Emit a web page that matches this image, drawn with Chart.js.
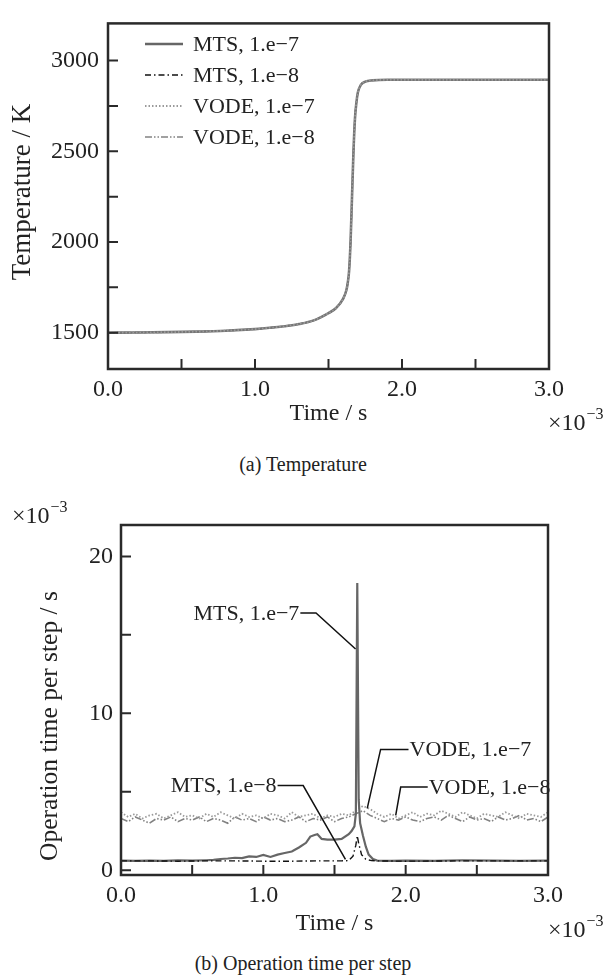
<!DOCTYPE html>
<html>
<head>
<meta charset="utf-8">
<script src="https://cdn.jsdelivr.net/npm/chart.js@4.4.1/dist/chart.umd.min.js"></script>
<style>
  html, body { margin: 0; padding: 0; background: #fff; }
  body { width: 606px; height: 976px; position: relative; overflow: hidden;
         font-family: "Liberation Serif", "Times New Roman", serif; color: #222; }
  .wrap { position: absolute; left: 0; width: 606px; }
  #topWrap { top: 0; height: 440px; }
  #botWrap { top: 490px; height: 460px; }
  .caption { position: absolute; left: 0; width: 606px; text-align: center; font-size: 20px; }
</style>
</head>
<body>
<div class="wrap" id="topWrap"><canvas id="tempChart" width="606" height="440"></canvas></div>
<div class="wrap" id="botWrap"><canvas id="opChart" width="606" height="460"></canvas></div>
<div class="caption" style="top:453px">(a) Temperature</div>
<div class="caption" style="top:952px">(b) Operation time per step</div>

<script>
const SERIF = '"Liberation Serif", "Times New Roman", serif';

// series names
const seriesNames = ['MTS, 1.e\u22127', 'MTS, 1.e\u22128', 'VODE, 1.e\u22127', 'VODE, 1.e\u22128'];

// (a) temperature, time in 1e-3 s
const tempTime = [0, 0.2, 0.4, 0.6, 0.8, 1.0, 1.1, 1.2, 1.3, 1.4, 1.5, 1.55, 1.6, 1.62, 1.63, 1.64,
                  1.65, 1.66, 1.67, 1.68, 1.69, 1.70, 1.72, 1.75, 1.8, 1.9, 2.0, 2.5, 3.0];
const tempK = [1500, 1501, 1503, 1506, 1511, 1520, 1527, 1536, 1548, 1568, 1608, 1635, 1688, 1730, 1770, 1840,
               2000, 2250, 2500, 2680, 2770, 2825, 2866, 2884, 2891, 2894, 2894, 2894, 2894];

// (b) operation time per step, 1e-3 s
const mts7Time = [0, 0.1, 0.2, 0.3, 0.4, 0.5, 0.6, 0.65, 0.7, 0.75, 0.8, 0.85, 0.9, 0.95, 1.0, 1.05,
                  1.1, 1.15, 1.2, 1.25, 1.3, 1.33, 1.36, 1.38, 1.41, 1.45, 1.5, 1.55, 1.6, 1.62, 1.64,
                  1.65, 1.66, 1.67, 1.68, 1.70, 1.72, 1.74, 1.77, 1.8, 1.9, 2.0, 2.2, 2.4, 2.6, 2.8, 3.0];
const mts7Op = [0.62, 0.6, 0.62, 0.6, 0.63, 0.62, 0.64, 0.66, 0.72, 0.75, 0.8, 0.78, 0.88, 0.85, 0.98, 0.85,
                1.0, 1.1, 1.2, 1.45, 1.75, 2.15, 2.25, 2.3, 2.0, 1.95, 1.95, 2.0, 2.3, 2.5, 2.8,
                3.6, 18.3, 4.5, 3.0, 2.2, 1.5, 1.0, 0.72, 0.62, 0.6, 0.62, 0.6, 0.64, 0.62, 0.6, 0.62];

const mts8Time = [0, 0.2, 0.4, 0.6, 0.8, 1.0, 1.2, 1.4, 1.55, 1.6, 1.63, 1.65, 1.66, 1.67, 1.69, 1.72,
                  1.76, 1.8, 2.0, 2.4, 2.8, 3.0];
const mts8Op = [0.6, 0.6, 0.58, 0.6, 0.6, 0.58, 0.58, 0.6, 0.6, 0.62, 0.9, 1.6, 2.2, 1.7, 1.0, 0.7,
                0.62, 0.6, 0.58, 0.6, 0.6, 0.6];

const vodeTime = [0.00, 0.05, 0.10, 0.15, 0.20, 0.25, 0.30, 0.35, 0.40, 0.45,
                  0.50, 0.55, 0.60, 0.65, 0.70, 0.75, 0.80, 0.85, 0.90, 0.95,
                  1.00, 1.05, 1.10, 1.15, 1.20, 1.25, 1.30, 1.35, 1.40, 1.45,
                  1.50, 1.55, 1.60, 1.65, 1.70, 1.75, 1.80, 1.85, 1.90, 1.95,
                  2.00, 2.05, 2.10, 2.15, 2.20, 2.25, 2.30, 2.35, 2.40, 2.45,
                  2.50, 2.55, 2.60, 2.65, 2.70, 2.75, 2.80, 2.85, 2.90, 2.95, 3.00];
const vode7Op = [3.7, 3.4, 3.6, 3.3, 3.5, 3.6, 3.3, 3.5, 3.7, 3.4,
                 3.5, 3.3, 3.6, 3.4, 3.7, 3.5, 3.3, 3.6, 3.4, 3.5,
                 3.3, 3.6, 3.5, 3.3, 3.7, 3.4, 3.5, 3.6, 3.3, 3.5,
                 3.4, 3.6, 3.5, 3.8, 4.1, 3.9, 3.6, 3.4, 3.6, 3.3,
                 3.5, 3.7, 3.4, 3.6, 3.5, 3.8, 3.6, 3.4, 3.7, 3.5,
                 3.3, 3.6, 3.5, 3.4, 3.7, 3.5, 3.3, 3.6, 3.5, 3.4, 3.7];
const vode8Op = [3.3, 3.1, 3.4, 3.2, 3.0, 3.3, 3.2, 3.4, 3.1, 3.3,
                 3.2, 3.4, 3.1, 3.3, 3.2, 3.0, 3.4, 3.2, 3.3, 3.1,
                 3.4, 3.2, 3.3, 3.1, 3.2, 3.4, 3.1, 3.3, 3.2, 3.4,
                 3.1, 3.3, 3.4, 3.6, 3.8, 3.5, 3.3, 3.1, 3.3, 3.2,
                 3.4, 3.2, 3.1, 3.3, 3.4, 3.2, 3.5, 3.3, 3.1, 3.4,
                 3.2, 3.3, 3.1, 3.4, 3.2, 3.3, 3.5, 3.2, 3.3, 3.1, 3.4];

// tick positions
const timeTicks = [0, 0.5, 1.0, 1.5, 2.0, 2.5, 3.0];
const tempTicks = [1500, 1750, 2000, 2250, 2500, 2750, 3000];
const opTicks = [0, 5, 10, 15, 20];

// line looks per series (same order as seriesNames)
const lineStyles = [
  { borderColor: '#666666', borderWidth: 2.2, borderDash: [] },
  { borderColor: '#111111', borderWidth: 1.4, borderDash: [6, 3, 1.5, 3] },
  { borderColor: '#9a9a9a', borderWidth: 1.8, borderDash: [1.5, 2] },
  { borderColor: '#828282', borderWidth: 1.6, borderDash: [7, 2, 1.5, 2, 1.5, 2] }
];

// leader-line labels for (b): text + polyline in data units
const opNotes = [
  { text: seriesNames[0], align: 'right', pts: [[1.26, 16.4], [1.37, 16.4], [1.648, 14.1]] },
  { text: seriesNames[1], align: 'right', pts: [[1.10, 5.4], [1.28, 5.4], [1.577, 0.7]] },
  { text: seriesNames[2], align: 'left', pts: [[2.02, 7.7], [1.824, 7.7], [1.73, 3.95]] },
  { text: seriesNames[3], align: 'left', pts: [[2.155, 5.3], [1.965, 5.3], [1.93, 3.5]] }
];

function xy(xs, ys) {
  return xs.map((x, i) => ({ x: x, y: ys[i] }));
}

function drawPower(ctx, x, y) {
  ctx.fillStyle = '#222';
  ctx.textAlign = 'left';
  ctx.textBaseline = 'alphabetic';
  ctx.font = '24px ' + SERIF;
  ctx.fillText('\u00d710', x, y);
  let w = ctx.measureText('\u00d710').width;
  ctx.font = '16px ' + SERIF;
  ctx.fillText('\u22123', x + w + 1, y - 11);
}

// frame, inward ticks, y title, legend, notes and the x10^-3 labels
const frameExtras = {
  id: 'frameExtras',
  afterDatasetsDraw(chart, args, opts) {
    const ctx = chart.ctx;
    const a = chart.chartArea;
    const sx = chart.scales.x, sy = chart.scales.y;
    ctx.save();
    ctx.strokeStyle = '#2a2a2a';
    ctx.lineWidth = 2.5;
    ctx.setLineDash([]);
    ctx.strokeRect(a.left, a.top, a.right - a.left, a.bottom - a.top);
    ctx.lineWidth = 2;
    ctx.beginPath();
    sx.ticks.forEach(t => {
      let px = sx.getPixelForValue(t.value);
      ctx.moveTo(px, a.bottom);
      ctx.lineTo(px, a.bottom - 10);
    });
    sy.ticks.forEach(t => {
      let py = sy.getPixelForValue(t.value);
      ctx.moveTo(a.left, py);
      ctx.lineTo(a.left + 10, py);
    });
    ctx.stroke();

    if (opts.yTitle) {
      ctx.save();
      ctx.translate(opts.yTitle.x, opts.yTitle.y);
      ctx.rotate(-Math.PI / 2);
      ctx.fillStyle = '#222';
      ctx.font = opts.yTitle.size + 'px ' + SERIF;
      ctx.textAlign = 'center';
      ctx.textBaseline = 'middle';
      ctx.fillText(opts.yTitle.text, 0, 0);
      ctx.restore();
    }

    if (opts.legend) {
      chart.data.datasets.forEach((ds, i) => {
        let y = opts.legend.y + i * opts.legend.gap;
        ctx.strokeStyle = i === 0 ? lineStyles[0].borderColor : ds.borderColor;
        ctx.lineWidth = ds.borderWidth;
        ctx.setLineDash(ds.borderDash);
        ctx.beginPath();
        ctx.moveTo(opts.legend.x, y);
        ctx.lineTo(opts.legend.x + 38, y);
        ctx.stroke();
        ctx.setLineDash([]);
        ctx.fillStyle = '#222';
        ctx.font = '22px ' + SERIF;
        ctx.textAlign = 'left';
        ctx.textBaseline = 'middle';
        ctx.fillText(ds.label, opts.legend.x + 48, y + 1);
      });
    }

    if (opts.notes) {
      opts.notes.forEach(n => {
        let p = n.pts.map(q => [sx.getPixelForValue(q[0]), sy.getPixelForValue(q[1])]);
        ctx.strokeStyle = '#111';
        ctx.lineWidth = 1.5;
        ctx.setLineDash([]);
        ctx.beginPath();
        ctx.moveTo(p[0][0], p[0][1]);
        for (let k = 1; k < p.length; k++) ctx.lineTo(p[k][0], p[k][1]);
        ctx.stroke();
        ctx.fillStyle = '#222';
        ctx.font = '22px ' + SERIF;
        ctx.textAlign = n.align;
        ctx.textBaseline = 'middle';
        let dx = n.align === 'right' ? -1 : 1;
        ctx.fillText(n.text, p[0][0] + dx, p[0][1] + 1);
      });
    }

    if (opts.powerX) drawPower(ctx, opts.powerX.x, opts.powerX.y);
    if (opts.powerY) drawPower(ctx, opts.powerY.x, opts.powerY.y);
    ctx.restore();
  }
};

function timeAxis(height) {
  return {
    type: 'linear', min: 0, max: 3,
    afterBuildTicks: s => { s.ticks = timeTicks.map(v => ({ value: v })); },
    afterFit: s => { s.height = height; },
    grid: { display: false, drawTicks: false },
    border: { display: false },
    ticks: {
      font: { family: SERIF, size: 24 }, color: '#222', padding: 6,
      maxRotation: 0, autoSkip: false,
      callback: v => Number.isInteger(v) ? v.toFixed(1) : ''
    },
    title: { display: true, text: 'Time / s', color: '#222',
             font: { family: SERIF, size: 24 }, padding: { top: 0, bottom: 12 } }
  };
}

function valueAxis(opt) {
  return {
    type: 'linear', min: opt.min, max: opt.max,
    afterBuildTicks: s => { s.ticks = opt.ticks.map(v => ({ value: v })); },
    afterFit: s => { s.width = opt.width; },
    grid: { display: false, drawTicks: false },
    border: { display: false },
    ticks: {
      font: { family: SERIF, size: 24 }, color: '#222', padding: opt.pad,
      autoSkip: false, callback: v => (v % opt.labelStep === 0) ? String(v) : ''
    }
  };
}

function makeSets(pairs, orders) {
  return pairs.map((p, i) => Object.assign({
    label: seriesNames[i],
    data: xy(p[0], p[1]),
    pointRadius: 0,
    fill: false,
    order: orders[i]
  }, lineStyles[i], p[2] || {}));
}

const smooth = { cubicInterpolationMode: 'monotone' };

new Chart(document.getElementById('tempChart'), {
  type: 'line',
  data: {
    datasets: makeSets([
      [tempTime, tempK, Object.assign({ borderColor: '#767676', borderWidth: 2.6 }, smooth)],
      [tempTime, tempK, smooth],
      [tempTime, tempK, smooth],
      [tempTime, tempK, smooth]
    ], [1, 4, 0, 2])
  },
  options: {
    responsive: false,
    animation: false,
    layout: { padding: { left: 0, top: 8, right: 57, bottom: 0 } },
    scales: {
      x: timeAxis(71),
      y: valueAxis({ min: 1300, max: 3205, ticks: tempTicks, width: 108, pad: 9, labelStep: 500 })
    },
    plugins: {
      legend: { display: false },
      tooltip: { enabled: false },
      frameExtras: {
        legend: { x: 145, y: 44, gap: 31 },
        powerX: { x: 548, y: 430 },
        yTitle: { text: 'Temperature / K', x: 23, y: 192, size: 27 }
      }
    }
  },
  plugins: [frameExtras]
});

new Chart(document.getElementById('opChart'), {
  type: 'line',
  data: {
    datasets: makeSets([
      [mts7Time, mts7Op],
      [mts8Time, mts8Op],
      [vodeTime, vode7Op],
      [vodeTime, vode8Op]
    ], [1, 0, 2, 3])
  },
  options: {
    responsive: false,
    animation: false,
    layout: { padding: { left: 0, top: 35, right: 58, bottom: 0 } },
    scales: {
      x: timeAxis(75),
      y: valueAxis({ min: -0.3, max: 22, ticks: opTicks, width: 121, pad: 8, labelStep: 10 })
    },
    plugins: {
      legend: { display: false },
      tooltip: { enabled: false },
      frameExtras: {
        notes: opNotes,
        powerX: { x: 548, y: 447 },
        powerY: { x: 12, y: 33 },
        yTitle: { text: 'Operation time per step / s', x: 50, y: 236, size: 25.5 }
      }
    }
  },
  plugins: [frameExtras]
});
</script>
</body>
</html>
